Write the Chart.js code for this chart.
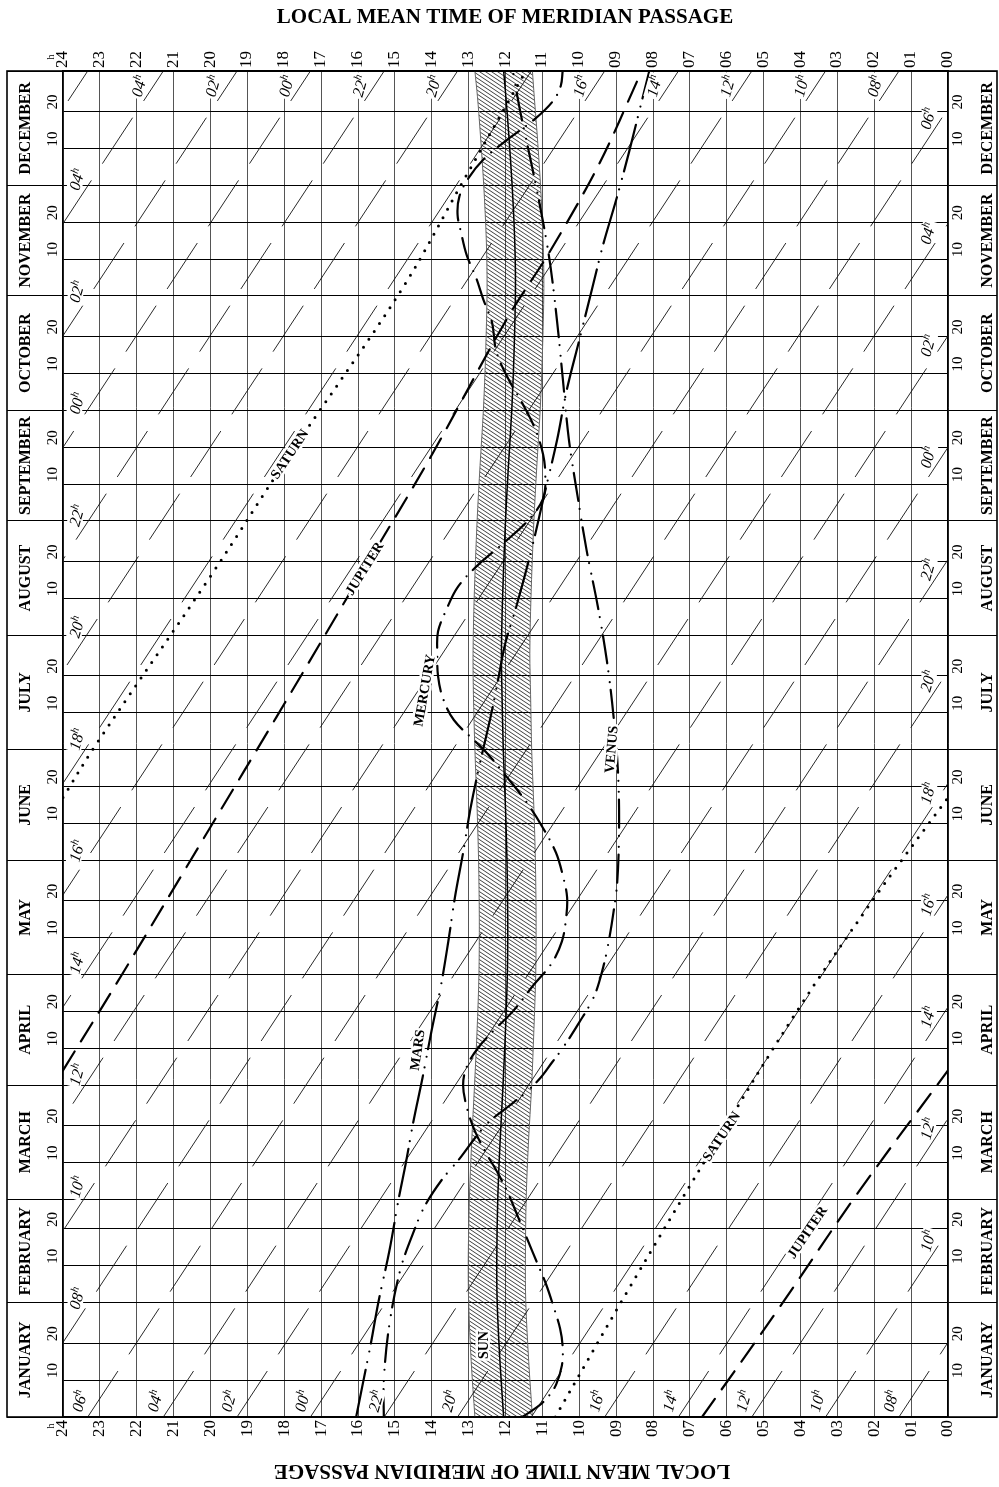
<!DOCTYPE html>
<html><head><meta charset="utf-8">
<script src="https://cdn.jsdelivr.net/npm/chart.js@4.4.1/dist/chart.umd.min.js"></script>
<style>html,body{margin:0;padding:0;background:#fff}canvas{display:block}</style>
</head><body>
<canvas id="c" width="999" height="1487"></canvas>
<script>
// ---------- DATA ----------
const titleText = 'LOCAL MEAN TIME OF MERIDIAN PASSAGE';
const monthNames = ['JANUARY','FEBRUARY','MARCH','APRIL','MAY','JUNE','JULY','AUGUST','SEPTEMBER','OCTOBER','NOVEMBER','DECEMBER'];
const monthStartDays = [0,31,59,90,120,151,181,212,243,273,304,334,365];
const dayMarks = [10,20];
const hourTicks = [0,1,2,3,4,5,6,7,8,9,10,11,12,13,14,15,16,17,18,19,20,21,22,23,24];

// Sun (LMT of transit, h) and band edges
const sunDay = [0,15,31,43,59,74,90,105,120,135,151,165,181,196,207,222,243,258,273,288,306,319,334,349,358,365];
const sunLMT = [12.05,12.15,12.225,12.236,12.21,12.15,12.067,12.0,11.95,11.94,11.96,12.0,12.06,12.095,12.11,12.08,12.0,11.92,11.83,11.77,11.73,11.75,11.82,11.92,11.99,12.05];
const bandWest = [12.83,12.93,13.0,13.01,12.98,12.92,12.84,12.77,12.72,12.71,12.73,12.77,12.83,12.87,12.88,12.85,12.77,12.69,12.6,12.54,12.5,12.52,12.59,12.69,12.76,12.83];
const bandEast = [11.27,11.37,11.45,11.46,11.44,11.38,11.29,11.23,11.18,11.17,11.19,11.23,11.29,11.32,11.34,11.31,11.23,11.15,11.06,11.0,10.96,10.98,11.05,11.15,11.22,11.27];

// Planets: [day, LMT]
const mercuryDay = [0,3,6,9,14,19,24,30,36,42,48,54,60,66,72,78,84,90,95,100,105,110,117,123,129,135,141,147,153,160,167,174,180,183,189,195,201,207,213,219,225,231,237,243,249,255,261,268,275,282,289,297,303,309,315,321,326,331,336,341,346,352,357,361,365];
const mercuryLMT = [11.55,11.1,10.8,10.62,10.47,10.45,10.52,10.7,10.9,11.15,11.4,11.65,11.9,12.2,12.55,12.85,13.05,13.15,13.05,12.75,12.3,11.8,11.25,10.75,10.47,10.36,10.33,10.45,10.63,11.0,11.45,12.0,12.5,12.8,13.4,13.7,13.83,13.85,13.83,13.6,13.3,12.75,12.05,11.4,10.98,10.92,10.98,11.2,11.55,11.95,12.25,12.37,12.6,12.8,13.05,13.2,13.3,13.25,13.0,12.6,12.0,11.2,10.7,10.5,10.45];

const venusDay = [0,10,25,40,50,57,64,70,76,80,84,88,92,96,100,107,114,122,129,137,145,160,175,190,205,220,235,250,265,282,297,312,324,340,354,365];
const venusLMT = [15.3,15.3,15.15,14.85,14.5,14.2,13.75,13.25,12.8,12.45,11.95,11.45,11.05,10.75,10.45,10.0,9.6,9.35,9.2,9.07,8.97,8.92,8.95,9.07,9.25,9.5,9.8,10.05,10.28,10.45,10.6,10.78,10.98,11.3,11.6,11.8];

const marsDay = [0,10,20,31,45,59,69,80,92,105,117,129,141,153,165,177,190,200,210,220,235,250,265,278,292,306,318,330,343,357,365];
const marsLMT = [16.05,15.85,15.65,15.45,15.15,14.9,14.7,14.5,14.25,14.0,13.75,13.55,13.37,13.15,12.95,12.7,12.4,12.2,12.0,11.7,11.3,10.95,10.6,10.35,10.0,9.65,9.35,9.0,8.65,8.3,8.1];

const jupiterDayA = [0,30,60,94];
const jupiterLMTA = [6.67,4.55,2.5,0.0];
const jupiterDayB = [94,120,160,190,228,260,298,316,340,364,365];
const jupiterLMTB = [24.0,22.4,20.0,18.2,15.95,14.05,11.95,10.8,9.45,8.35,8.3];

const saturnDayA = [0,34,76,110,140,168];
const saturnLMTA = [10.65,8.7,6.2,4.1,2.05,0.0];
const saturnDayB = [168,182,228,261,306,336,365];
const saturnLMTB = [24.0,23.13,20.0,17.85,14.8,13.1,11.45];

// Star (sidereal) lines: LMT on 1 January; each line drifts one full day (24 h) over the year
const starLabels = ['06','08','10','12','14','16','18','20','22','00','02','04'];
const starBottomLMT = [23.33,1.33,3.32,5.32,7.31,9.31,11.30,13.30,15.29,17.29,19.28,21.28];
const starTopShow    = [false,true,true,true,true,true,false,true,true,true,true,true];
const starBottomShow = [true,true,true,true,true,true,false,true,true,true,true,true];
const starLeftShow   = [false,true,true,true,true,true,true,true,true,true,true,true];
const starRightShow  = [true,false,true,true,true,true,true,true,true,true,true,true];

// Curve name labels
const nameText = ['SATURN','SATURN','JUPITER','JUPITER','MERCURY','VENUS','MARS','SUN'];
const nameDay  = [76,261,230,50,197,181,99.5,19.5];
const nameLMT  = [6.13,17.84,15.81,3.8,14.18,9.11,14.37,12.56];
const nameAngle= [-56,-56,-58,-56,-80,-85,-82,-90];

// ---------- HELPERS ----------
const pts = (ds, ls) => ds.map((d,i)=>({x: ls[i], y: d}));
const SERIF = '"Liberation Serif", "DejaVu Serif", serif';

function hatchPattern(){
  const c = document.createElement('canvas'); c.width = 6; c.height = 4;
  const g = c.getContext('2d');
  g.strokeStyle = '#000'; g.lineWidth = 0.75;
  g.beginPath();
  for (const o of [-6,0,6]) { g.moveTo(o-1, -4/6); g.lineTo(o+7, 4+4/6); }
  g.stroke();
  return g.createPattern(c, 'repeat');
}

const datasets = [];
const bandPoly = pts(sunDay, bandWest).concat(pts(sunDay.slice().reverse(), bandEast.slice().reverse()));
datasets.push({data: bandPoly, showLine:true, fill:'shape', backgroundColor: hatchPattern(), borderWidth:0, pointRadius:0, tension:0, order:20});
datasets.push({data: pts(sunDay, bandWest), showLine:true, borderColor:'#666', borderWidth:1, pointRadius:0, tension:0.3, order:15});
datasets.push({data: pts(sunDay, bandEast), showLine:true, borderColor:'#666', borderWidth:1, pointRadius:0, tension:0.3, order:15});
datasets.push({data: pts(sunDay, sunLMT), showLine:true, borderColor:'#000', borderWidth:1.5, pointRadius:0, tension:0.3, order:5});

// star lines: each drawn as two straight pieces running the whole year (clipped at the frame)
starBottomLMT.forEach((L0)=>{
  [[{x:L0,y:0},{x:L0-24,y:365}],[{x:L0+24,y:0},{x:L0,y:365}]].forEach(seg=>{
    datasets.push({data:seg, showLine:true, borderColor:'#111', borderWidth:0.9, pointRadius:0, borderDash:[55,20], order:10});
  });
});

const planetStyle = (dash, w) => ({showLine:true, borderColor:'#000', borderWidth:w, pointRadius:0, tension:0.35, borderDash:dash, borderCapStyle:'round', fill:false, order:1});
datasets.push(Object.assign({data: pts(mercuryDay, mercuryLMT)}, planetStyle([26,9,0,9],2.2)));
datasets.push(Object.assign({data: pts(venusDay, venusLMT)}, planetStyle([28,8,0,11,0,8],2.2)));
datasets.push(Object.assign({data: pts(marsDay, marsLMT)}, planetStyle([48,8,0,11,0,8],2.2)));
datasets.push(Object.assign({data: pts(jupiterDayA, jupiterLMTA)}, planetStyle([22,12],2.2)));
datasets.push(Object.assign({data: pts(jupiterDayB, jupiterLMTB)}, planetStyle([22,12],2.2)));
datasets.push(Object.assign({data: pts(saturnDayA, saturnLMTA)}, planetStyle([0,9.5],3)));
datasets.push(Object.assign({data: pts(saturnDayB, saturnLMTB)}, planetStyle([0,9.5],3)));

const yGrid = [];
for (let m=0;m<12;m++){ yGrid.push(monthStartDays[m]); dayMarks.forEach(dm=>yGrid.push(monthStartDays[m]+dm)); }
yGrid.push(365);
const isMonth = v => monthStartDays.includes(v);
const fmtHour = v => String(v).padStart(2,'0');

function labelWithHalo(ctx, text, x, y, angle, font){
  ctx.save();
  ctx.translate(x,y); ctx.rotate(angle*Math.PI/180);
  ctx.font = font; ctx.textAlign = 'center'; ctx.textBaseline='middle';
  ctx.lineWidth = 5; ctx.strokeStyle='#fff'; ctx.lineJoin='round';
  ctx.strokeText(text,0,0);
  ctx.fillStyle='#000'; ctx.fillText(text,0,0);
  ctx.restore();
}
function starLabel(ctx, txt, x, y){
  ctx.save();
  ctx.translate(x,y); ctx.rotate(-74*Math.PI/180);
  ctx.font = 'italic 16px '+SERIF;
  const w1 = ctx.measureText(txt).width;
  ctx.font = 'italic 11px '+SERIF;
  const w2 = ctx.measureText('h').width;
  const tot = w1+w2;
  ctx.fillStyle='#fff'; ctx.fillRect(-tot/2-2,-8,tot+4,15);
  ctx.fillStyle='#000'; ctx.textBaseline='middle'; ctx.textAlign='left';
  ctx.font = 'italic 16px '+SERIF; ctx.fillText(txt,-tot/2,1);
  ctx.font = 'italic 11px '+SERIF; ctx.fillText('h',-tot/2+w1,-4);
  ctx.restore();
}

const decor = {
  id:'decor',
  afterDatasetsDraw(chart){
    const ctx = chart.ctx, xs = chart.scales.x, ys = chart.scales.y, ca = chart.chartArea;
    starBottomLMT.forEach((L0,i)=>{
      const dW = L0/24*365;
      const t = starLabels[i];
      if (starTopShow[i]) starLabel(ctx, t, xs.getPixelForValue(L0)-24, ca.top+15);
      if (starBottomShow[i]) starLabel(ctx, t, xs.getPixelForValue(L0)-8, ca.bottom-16);
      if (starLeftShow[i]) starLabel(ctx, t, ca.left+14, ys.getPixelForValue(dW)-44);
      if (starRightShow[i]) starLabel(ctx, t, ca.right-20, ys.getPixelForValue(dW)+10);
    });
    nameText.forEach((t,i)=>{
      labelWithHalo(ctx, t, xs.getPixelForValue(nameLMT[i]), ys.getPixelForValue(nameDay[i]), nameAngle[i], 'bold 14px '+SERIF);
    });
  },
  afterDraw(chart){
    const ctx = chart.ctx, ys = chart.scales.y, ca = chart.chartArea, W = chart.width, H = chart.height;
    ctx.save();
    ctx.strokeStyle='#000'; ctx.lineWidth=1.6;
    ctx.strokeRect(7, ca.top, W-9, ca.bottom-ca.top);
    ctx.fillStyle='#000'; ctx.textAlign='center'; ctx.textBaseline='alphabetic';
    ctx.font='bold 21px '+SERIF;
    ctx.fillText(titleText, 505, 23);
    ctx.save(); ctx.translate(502, H-22); ctx.rotate(Math.PI); ctx.fillText(titleText,0,0); ctx.restore();
    for (let m=0;m<12;m++){
      const yc = ys.getPixelForValue((monthStartDays[m]+monthStartDays[m+1])/2);
      [25,987].forEach(x=>{
        ctx.save(); ctx.translate(x,yc); ctx.rotate(-Math.PI/2);
        ctx.font='bold 16px '+SERIF; ctx.textAlign='center'; ctx.textBaseline='middle';
        ctx.fillText(monthNames[m],0,1); ctx.restore();
      });
      dayMarks.forEach(dm=>{
        const y = ys.getPixelForValue(monthStartDays[m]+dm);
        [52,957].forEach(x=>{
          ctx.save(); ctx.translate(x,y); ctx.rotate(-Math.PI/2);
          ctx.font='15px '+SERIF; ctx.textAlign='left'; ctx.textBaseline='middle';
          ctx.fillText(String(dm),2,1); ctx.restore();
        });
      });
    }
    ctx.font='10px '+SERIF; ctx.textAlign='center'; ctx.textBaseline='middle';
    [[51,57],[51,1426]].forEach(([x,y])=>{ctx.save();ctx.translate(x,y);ctx.rotate(-Math.PI/2);ctx.fillText('h',0,0);ctx.restore();});
    ctx.restore();
  }
};

const tickFont = {family: SERIF, size: 17};
new Chart(document.getElementById('c'), {
  type:'scatter',
  data:{datasets},
  options:{
    responsive:false, animation:false, devicePixelRatio:1,
    layout:{padding:{left:7,right:2,top:0,bottom:0}},
    plugins:{legend:{display:false}, tooltip:{enabled:false}},
    scales:{
      x:{type:'linear', position:'bottom', min:0, max:24, reverse:true,
        afterBuildTicks: s=>{ s.ticks = hourTicks.map(v=>({value:v})); },
        afterFit: s=>{ s.height = 70; },
        ticks:{autoSkip:false, minRotation:90, maxRotation:90, padding:3, color:'#000', font:tickFont, callback: v=>fmtHour(v)},
        grid:{color:'#555', lineWidth:1, drawTicks:false},
        border:{display:true, color:'#000', width:1.6}},
      xt:{type:'linear', position:'top', min:0, max:24, reverse:true,
        afterBuildTicks: s=>{ s.ticks = hourTicks.map(v=>({value:v})); },
        afterFit: s=>{ s.height = 71; },
        ticks:{autoSkip:false, minRotation:90, maxRotation:90, padding:3, labelOffset:20, color:'#000', font:tickFont, callback: v=>fmtHour(v)},
        grid:{display:false, drawTicks:false},
        border:{display:true, color:'#000', width:1.6}},
      y:{type:'linear', position:'left', min:0, max:365,
        afterBuildTicks: s=>{ s.ticks = yGrid.map(v=>({value:v})); },
        afterFit: s=>{ s.width = 56; },
        ticks:{display:false},
        grid:{color:'#000', lineWidth:1, drawTicks:true, tickLength:56, tickColor: c=> isMonth(c.tick.value)?'#000':'rgba(0,0,0,0)'},
        border:{display:true, color:'#000', width:1.6}},
      y2:{type:'linear', position:'right', min:0, max:365,
        afterBuildTicks: s=>{ s.ticks = yGrid.map(v=>({value:v})); },
        afterFit: s=>{ s.width = 49; },
        ticks:{display:false},
        grid:{drawOnChartArea:false, drawTicks:true, tickLength:49, tickColor: c=> isMonth(c.tick.value)?'#000':'rgba(0,0,0,0)'},
        border:{display:true, color:'#000', width:1.6}}
    }
  },
  plugins:[decor]
});
</script>
</body></html>
